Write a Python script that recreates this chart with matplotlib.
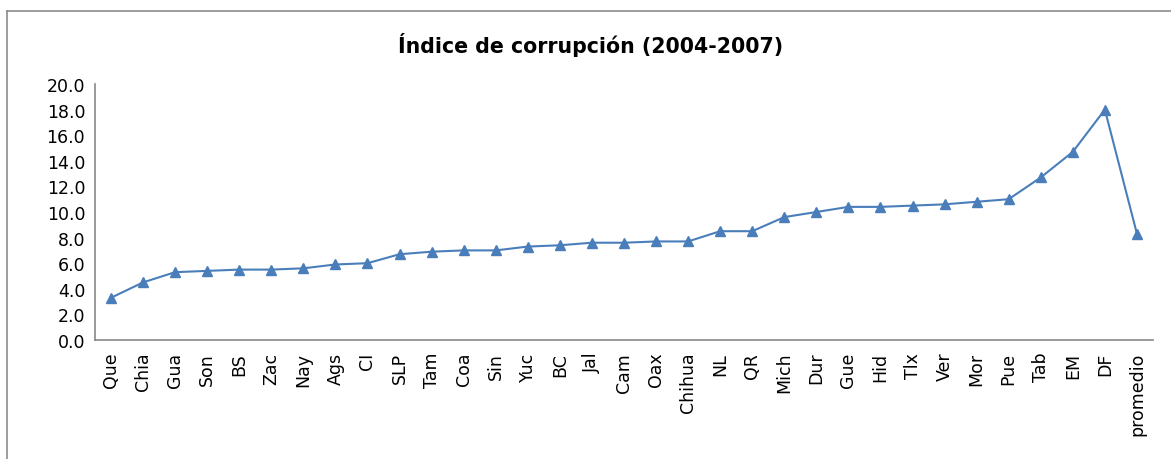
import matplotlib
matplotlib.use("Agg")
import matplotlib.pyplot as plt
from matplotlib.lines import Line2D

plt.rcParams["font.family"] = ["DejaVu Sans"]

ESTADOS = [
    "Que", "Chia", "Gua", "Son", "BS", "Zac", "Nay", "Ags", "CI", "SLP", "Tam",
    "Coa", "Sin", "Yuc", "BC", "Jal", "Cam", "Oax", "Chihua", "NL", "QR", "Mich",
    "Dur", "Gue", "Hid", "Tlx", "Ver", "Mor", "Pue", "Tab", "EM", "DF", "promedio",
]
INDICE = [
    3.3, 4.5, 5.3, 5.4, 5.5, 5.5, 5.6, 5.9, 6.0, 6.7, 6.9,
    7.0, 7.0, 7.3, 7.4, 7.6, 7.6, 7.7, 7.7, 8.5, 8.5, 9.6,
    10.0, 10.4, 10.4, 10.5, 10.6, 10.8, 11.0, 12.7, 14.7, 18.0, 8.3,
]
Y_TICKS = [0, 2, 4, 6, 8, 10, 12, 14, 16, 18, 20]

LINE_COLOR = "#4a7ebb"
AXIS_COLOR = "#878787"

fig = plt.figure(figsize=(11.71, 4.60), dpi=100)
ax = fig.add_axes([0.0811, 0.2587, 0.9035, 0.5565])

x = list(range(len(ESTADOS)))
ax.plot(x, INDICE, color=LINE_COLOR, linewidth=1.5, marker="^", markersize=6.5,
        markerfacecolor=LINE_COLOR, markeredgecolor=LINE_COLOR)

ax.set_xlim(-0.5, len(ESTADOS) - 0.5)
ax.set_ylim(0, 20)
ax.set_yticks(Y_TICKS)
ax.set_yticklabels([f"{v:.1f}" for v in Y_TICKS], fontsize=12.5)
ax.set_xticks(x)
ax.set_xticklabels(ESTADOS, rotation=90, fontsize=12.5)
ax.tick_params(axis="both", length=0, colors="black")
ax.tick_params(axis="y", pad=7)
ax.tick_params(axis="x", pad=8.5)

for side in ("top", "right"):
    ax.spines[side].set_visible(False)
for side in ("left", "bottom"):
    ax.spines[side].set_color(AXIS_COLOR)
    ax.spines[side].set_linewidth(1.2)

fig.text(0.504, 0.902, "Índice de corrupción (2004-2007)", ha="center", va="center",
         fontsize=14.8, fontweight="bold")

# chart area border (top and left edges visible in the original)
fig.add_artist(Line2D([7 / 1171, 1.0], [1 - 12 / 460, 1 - 12 / 460],
                      transform=fig.transFigure, color="#8c8c8c", linewidth=1.2))
fig.add_artist(Line2D([7 / 1171, 7 / 1171], [0.0, 1 - 12 / 460],
                      transform=fig.transFigure, color="#8c8c8c", linewidth=1.2))

fig.savefig("out.png", dpi=100)
